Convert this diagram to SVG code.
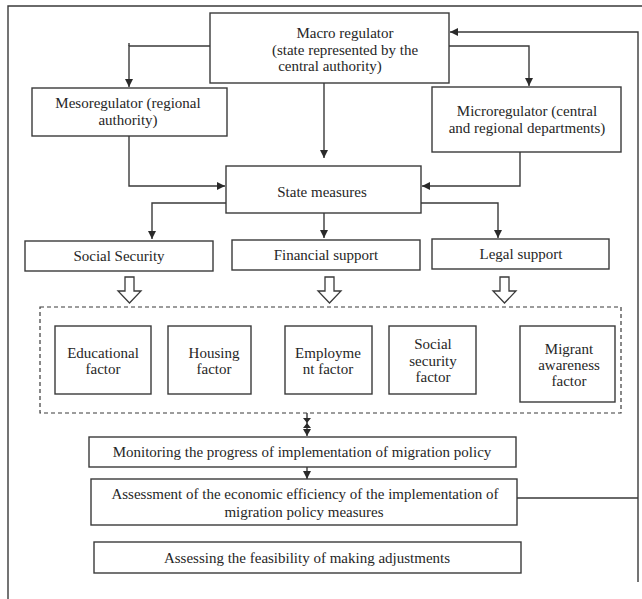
<svg xmlns="http://www.w3.org/2000/svg" width="642" height="599" viewBox="0 0 642 599">
<style>
  .box{fill:#fff;stroke:#3a3a3a;stroke-width:1.4}
  .dash{fill:none;stroke:#3a3a3a;stroke-width:1.2;stroke-dasharray:4 3}
  .ln{fill:none;stroke:#3a3a3a;stroke-width:1.4}
  .hol{fill:#fff;stroke:#3a3a3a;stroke-width:1.3;stroke-linejoin:miter}
  .head{fill:#2a2a2a}
  text{font-family:"Liberation Serif","Times New Roman",serif;font-size:15px;fill:#262626;text-anchor:middle;dominant-baseline:central}
</style>
<defs>
  <marker id="ah" viewBox="0 0 10 10" refX="10" refY="5" markerWidth="8" markerHeight="8" markerUnits="userSpaceOnUse" orient="auto">
    <path d="M0,0 L10,5 L0,10 z" class="head"/>
  </marker>
</defs>
<rect width="642" height="599" fill="#fff"/>
<g id="frame">
  <path class="ln" d="M8,599 V6 H642"/>
</g>
<g id="connectors">
  <path class="ln" d="M210,46 H129 V87" marker-end="url(#ah)"/>
  <path class="ln" d="M129,43 V46"/>
  <path class="ln" d="M449,46 H529 V86" marker-end="url(#ah)"/>
  <path class="ln" d="M324,79 V158" marker-end="url(#ah)"/>
  <path class="ln" d="M129,136 V186 H225" marker-end="url(#ah)"/>
  <path class="ln" d="M520,152 V186 H422" marker-end="url(#ah)"/>
  <path class="ln" d="M226,203 H152 V239" marker-end="url(#ah)"/>
  <path class="ln" d="M324,213 V238" marker-end="url(#ah)"/>
  <path class="ln" d="M421,203 H498 V238" marker-end="url(#ah)"/>
  <path class="hol" d="M125,277 H134 V291 H141 L129.5,303 L118,291 H125 Z"/>
  <path class="hol" d="M325,277 H334 V291 H341 L329.5,303 L318,291 H325 Z"/>
  <path class="hol" d="M500,277 H509 V291 H516 L504.5,303 L493,291 H500 Z"/>
  <path class="ln" d="M307,413 V436"/>
  <path class="head" d="M303,418 H311 L307,423 Z M303,428 H311 L307,423 Z"/>
  <path class="head" d="M303,429 H311 L307,436 Z"/>
  <path class="ln" d="M307,467 V479" marker-end="url(#ah)"/>
  <path class="ln" d="M517,498 H638 M638,582 V32 H450" marker-end="url(#ah)"/>
</g>
<g id="macro"><rect class="box" x="210" y="13" width="239" height="70"/>
  <text x="345" y="33">Macro regulator</text>
  <text x="345" y="50">(state represented by the</text>
  <text x="330" y="66">central authority)</text></g>
<g id="meso"><rect class="box" x="32" y="88" width="195" height="48"/>
  <text x="128" y="103">Mesoregulator (regional</text>
  <text x="128" y="120">authority)</text></g>
<g id="micro"><rect class="box" x="432" y="87" width="189" height="65"/>
  <text x="527" y="111">Microregulator (central</text>
  <text x="527" y="128">and regional departments)</text></g>
<g id="state"><rect class="box" x="226" y="166" width="195" height="47"/>
  <text x="322" y="192">State measures</text></g>
<g id="social"><rect class="box" x="25" y="241" width="188" height="30"/>
  <text x="119" y="256">Social Security</text></g>
<g id="financial"><rect class="box" x="232" y="240" width="188" height="30"/>
  <text x="326" y="255">Financial support</text></g>
<g id="legal"><rect class="box" x="432" y="239" width="177" height="30"/>
  <text x="521" y="254">Legal support</text></g>
<g id="factors"><rect class="dash" x="40" y="307" width="581" height="106"/></g>
<g id="educational"><rect class="box" x="55" y="326" width="96" height="68"/>
  <text x="103" y="353">Educational</text><text x="103" y="369">factor</text></g>
<g id="housing"><rect class="box" x="168" y="326" width="83" height="68"/>
  <text x="214" y="353">Housing</text><text x="214" y="369">factor</text></g>
<g id="employment"><rect class="box" x="285" y="326" width="87" height="68"/>
  <text x="328" y="353">Employme</text><text x="328" y="369">nt factor</text></g>
<g id="socialsec"><rect class="box" x="389" y="326" width="87" height="68"/>
  <text x="433" y="344">Social</text><text x="433" y="361">security</text><text x="433" y="377">factor</text></g>
<g id="migrant"><rect class="box" x="520" y="326" width="95" height="76"/>
  <text x="569" y="349">Migrant</text><text x="569" y="365">awareness</text><text x="569" y="381">factor</text></g>
<g id="monitoring"><rect class="box" x="89" y="437" width="427" height="30"/>
  <text x="302" y="452">Monitoring the progress of implementation of migration policy</text></g>
<g id="assessment"><rect class="box" x="91" y="479" width="426" height="46"/>
  <text x="305" y="494">Assessment of the economic efficiency of the implementation of</text>
  <text x="304" y="512">migration policy measures</text></g>
<g id="feasibility"><rect class="box" x="94" y="542" width="427" height="31"/>
  <text x="307" y="558">Assessing the feasibility of making adjustments</text></g>
</svg>
